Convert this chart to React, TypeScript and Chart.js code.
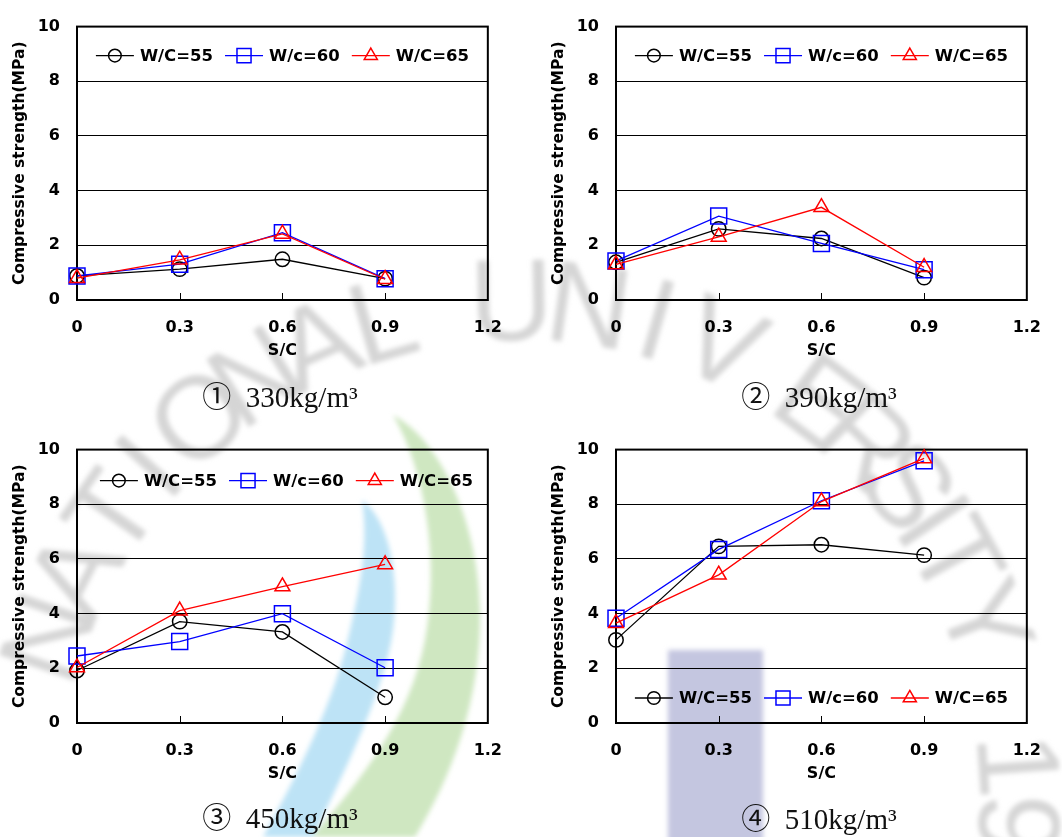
import React, { useEffect, useRef } from 'react';
import { Chart, registerables } from 'chart.js';

Chart.register(...registerables);

// ---------------- data ----------------
const X_VALUES = [0, 0.3, 0.6, 0.9];
const X_TICKS = [0, 0.3, 0.6, 0.9, 1.2];
const X_TICK_LABELS = ['0', '0.3', '0.6', '0.9', '1.2'];
const Y_TICKS = [0, 2, 4, 6, 8, 10];
const Y_TICK_LABELS = ['0', '2', '4', '6', '8', '10'];
const SERIES_LABELS = ['W/C=55', 'W/c=60', 'W/C=65'];
const SERIES_COLORS = ['#000000', '#0000ff', '#ff0000'];
const SERIES_MARKERS = ['circle', 'rect', 'triangle'];
const X_TITLE = 'S/C';
const Y_TITLE = 'Compressive strength(MPa)';

// ① 330 kg/m3
const C330_W55 = [0.88, 1.13, 1.49, 0.78];
const C330_W60 = [0.88, 1.31, 2.46, 0.78];
const C330_W65 = [0.8, 1.47, 2.42, 0.76];
// ② 390 kg/m3
const C390_W55 = [1.38, 2.6, 2.25, 0.82];
const C390_W60 = [1.43, 3.07, 2.07, 1.11];
const C390_W65 = [1.3, 2.31, 3.39, 1.2];
// ③ 450 kg/m3
const C450_W55 = [1.92, 3.71, 3.33, 0.94];
const C450_W60 = [2.45, 2.98, 4.0, 2.02];
const C450_W65 = [2.03, 4.11, 4.99, 5.8];
// ④ 510 kg/m3
const C510_W55 = [3.04, 6.46, 6.52, 6.14];
const C510_W60 = [3.83, 6.35, 8.13, 9.59];
const C510_W65 = [3.65, 5.42, 8.1, 9.68];

const CAPTIONS = ['①\u2002330kg/m³', '②\u2002390kg/m³', '③\u2002450kg/m³', '④\u2002510kg/m³'];

// ---------------- styling ----------------
const FONT_FAMILY = '"DejaVu Sans", "Liberation Sans", Arial, sans-serif';
const MARKER_RADIUS: Record<string, number> = { circle: 7.2, rect: 11.3, triangle: 8.6 };
const CANVAS_W = 520;
const CANVAS_H = 370;

function drawMarker(ctx: CanvasRenderingContext2D, style: string, x: number, y: number, r: number) {
  ctx.beginPath();
  if (style === 'circle') {
    ctx.arc(x, y, r, 0, Math.PI * 2);
  } else if (style === 'rect') {
    const s = r * Math.SQRT1_2;
    ctx.rect(x - s, y - s, 2 * s, 2 * s);
  } else {
    let rad = 0;
    ctx.moveTo(x + Math.sin(rad) * r, y - Math.cos(rad) * r);
    rad += (2 * Math.PI) / 3;
    ctx.lineTo(x + Math.sin(rad) * r, y - Math.cos(rad) * r);
    rad += (2 * Math.PI) / 3;
    ctx.lineTo(x + Math.sin(rad) * r, y - Math.cos(rad) * r);
    ctx.closePath();
  }
  ctx.stroke();
}

const framePlugin = {
  id: 'frame',
  beforeDatasetsDraw(chart: any) {
    const { ctx, chartArea } = chart;
    const xs = chart.scales.x;
    ctx.save();
    ctx.strokeStyle = '#000';
    ctx.lineWidth = 2;
    ctx.strokeRect(chartArea.left, chartArea.top, chartArea.right - chartArea.left, chartArea.bottom - chartArea.top);
    ctx.lineWidth = 1;
    for (const v of X_TICKS) {
      if (v <= xs.min || v >= xs.max) continue;
      const px = Math.round(xs.getPixelForValue(v)) + 0.5;
      ctx.beginPath();
      ctx.moveTo(px, chartArea.bottom);
      ctx.lineTo(px, chartArea.bottom - 7);
      ctx.stroke();
    }
    ctx.restore();
  },
};

const legendPlugin = {
  id: 'insideLegend',
  afterDraw(chart: any, _args: any, opts: any) {
    const { ctx, chartArea } = chart;
    const y = opts.position === 'bottom' ? chartArea.bottom - opts.offset : chartArea.top + opts.offset;
    ctx.save();
    ctx.font = `bold 16.5px ${FONT_FAMILY}`;
    const lineLen = 38;
    const gapText = 6;
    const gapItem = 12;
    const items = chart.data.datasets.map((ds: any) => ({ ds, w: ctx.measureText(ds.label).width }));
    const total = items.reduce((s: number, it: any) => s + lineLen + gapText + it.w, 0) + gapItem * (items.length - 1);
    let x = (chartArea.left + chartArea.right) / 2 - total / 2 + (opts.dx || 0);
    for (const it of items) {
      ctx.strokeStyle = it.ds.borderColor;
      ctx.lineWidth = 1.3;
      ctx.beginPath();
      ctx.moveTo(x, y);
      ctx.lineTo(x + lineLen, y);
      ctx.stroke();
      ctx.lineWidth = 1.5;
      drawMarker(ctx, it.ds.pointStyle, x + lineLen / 2, y, it.ds.pointRadius * 0.88);
      ctx.fillStyle = '#000';
      ctx.textAlign = 'left';
      ctx.textBaseline = 'middle';
      ctx.fillText(it.ds.label, x + lineLen + gapText, y + 1);
      x += lineLen + gapText + it.w + gapItem;
    }
    ctx.restore();
  },
};

type Props = {
  series: number[][];
  left: number;
  top: number;
  legendPos: 'top' | 'bottom';
  legendOffset: number;
  legendDx?: number;
};

function StrengthChart({ series, left, top, legendPos, legendOffset, legendDx = 0 }: Props) {
  const ref = useRef<HTMLCanvasElement>(null);
  useEffect(() => {
    const tickFont = { family: FONT_FAMILY, size: 16, weight: 'bold' as const };
    const datasets = series.map((vals, i) => ({
      label: SERIES_LABELS[i],
      data: X_VALUES.map((x, j) => ({ x, y: vals[j] })),
      borderColor: SERIES_COLORS[i],
      backgroundColor: SERIES_COLORS[i],
      borderWidth: 1.3,
      pointStyle: SERIES_MARKERS[i],
      pointRadius: MARKER_RADIUS[SERIES_MARKERS[i]],
      pointBorderWidth: 1.5,
      pointBorderColor: SERIES_COLORS[i],
      pointBackgroundColor: 'rgba(0,0,0,0)',
      tension: 0,
      clip: false as const,
      order: series.length - i,
    }));
    const chart = new Chart(ref.current as HTMLCanvasElement, {
      type: 'line',
      data: { datasets },
      plugins: [framePlugin, legendPlugin],
      options: {
        animation: false,
        responsive: false,
        devicePixelRatio: 1,
        layout: { padding: { left: 0, right: 26, top: 15, bottom: 0 } },
        plugins: {
          legend: { display: false },
          tooltip: { enabled: false },
          insideLegend: { position: legendPos, offset: legendOffset, dx: legendDx },
        } as any,
        scales: {
          x: {
            type: 'linear',
            min: X_TICKS[0],
            max: X_TICKS[X_TICKS.length - 1],
            afterBuildTicks: (s: any) => { s.ticks = X_TICKS.map((v) => ({ value: v })); },
            afterFit: (s: any) => { s.height = 70; },
            ticks: {
              autoSkip: false,
              maxRotation: 0,
              color: '#000',
              font: tickFont,
              padding: 18,
              callback: (v: any) => X_TICK_LABELS[X_TICKS.findIndex((t) => Math.abs(t - Number(v)) < 1e-9)],
            },
            grid: { display: false, drawTicks: false },
            border: { display: false },
            title: {
              display: true,
              text: X_TITLE,
              color: '#000',
              font: { family: FONT_FAMILY, size: 16, weight: 'bold' },
              padding: { top: 0, bottom: 10 },
            },
          },
          y: {
            type: 'linear',
            min: Y_TICKS[0],
            max: Y_TICKS[Y_TICKS.length - 1],
            afterBuildTicks: (s: any) => { s.ticks = Y_TICKS.map((v) => ({ value: v })); },
            afterFit: (s: any) => { s.width = 77; },
            ticks: {
              color: '#000',
              font: tickFont,
              padding: 17,
              callback: (v: any) => Y_TICK_LABELS[Y_TICKS.indexOf(Number(v))],
            },
            grid: {
              drawTicks: false,
              lineWidth: 1,
              color: (c: any) => (c.tick && (c.tick.value === Y_TICKS[0] || c.tick.value === Y_TICKS[Y_TICKS.length - 1]) ? 'rgba(0,0,0,0)' : '#000'),
            },
            border: { display: false },
            title: {
              display: true,
              text: Y_TITLE,
              color: '#000',
              font: { family: FONT_FAMILY, size: 15.5, weight: 'bold' },
              padding: { top: 11, bottom: 0 },
            },
          },
        },
      } as any,
    });
    return () => chart.destroy();
  }, []);
  return (
    <canvas
      ref={ref}
      width={CANVAS_W}
      height={CANVAS_H}
      style={{ position: 'absolute', left, top, width: CANVAS_W, height: CANVAS_H, display: 'block' }}
    />
  );
}

function Caption({ text, cx, cy }: { text: string; cx: number; cy: number }) {
  return (
    <div
      style={{
        position: 'absolute',
        left: cx - 150,
        top: cy - 17,
        width: 300,
        height: 34,
        lineHeight: '34px',
        textAlign: 'center',
        fontFamily: '"Liberation Serif", "DejaVu Serif", "Noto Sans CJK KR", serif',
        fontSize: 29,
        color: '#111',
        whiteSpace: 'nowrap',
      }}
    >
      {text}
    </div>
  );
}

function Watermark() {
  const cx = 520;
  const cy = 800;
  const r = 500;
  const letters = 'NATIONALUNIVERSITY19'.split('');
  const angles = [19, 27, 35, 42, 50, 58, 66, 74, 89, 98, 106, 114, 127, 134, 141, 146, 151, 159, 176, 183];
  return (
    <svg width={1062} height={837} style={{ position: 'absolute', left: 0, top: 0 }}>
      <defs>
        <filter id="wmBlur" x="-20%" y="-20%" width="140%" height="140%">
          <feGaussianBlur stdDeviation="2.5" />
        </filter>
      </defs>
      <g filter="url(#wmBlur)">
        {letters.map((ch, i) => {
          const a = (angles[i] * Math.PI) / 180;
          const x = cx - r * Math.cos(a);
          const y = cy - r * Math.sin(a);
          return (
            <text
              key={i}
              x={x}
              y={y}
              fontFamily='"Liberation Sans", Arial, sans-serif'
              fontSize={116}
              fill="#d5d5d5"
              textAnchor="middle"
              dominantBaseline="central"
              transform={`rotate(${angles[i] - 90} ${x} ${y})`}
            >
              {ch}
            </text>
          );
        })}
        <path
          d="M393,415 C440,440 478,520 480,610 C482,700 450,780 415,837 L312,837 C360,780 410,720 425,640 C440,560 425,470 393,415 Z"
          fill="#cfe7c1"
        />
        <path
          d="M362,500 C390,520 400,580 393,630 C385,690 345,770 313,837 L263,837 C300,770 335,700 350,630 C362,580 368,540 362,500 Z"
          fill="#bde3f6"
        />
        <rect x={668} y={650} width={95} height={200} fill="#c4c6e0" />
      </g>
    </svg>
  );
}

export default function App() {
  return (
    <div
      style={{
        position: 'absolute',
        left: 0,
        top: 0,
        width: 1062,
        height: 837,
        overflow: 'hidden',
        background: '#fff',
      }}
    >
      <Watermark />
      <StrengthChart series={[C330_W55, C330_W60, C330_W65]} left={0} top={0} legendPos="top" legendOffset={29} />
      <StrengthChart series={[C390_W55, C390_W60, C390_W65]} left={539} top={0} legendPos="top" legendOffset={29} />
      <StrengthChart series={[C450_W55, C450_W60, C450_W65]} left={0} top={423} legendPos="top" legendOffset={31} legendDx={4} />
      <StrengthChart series={[C510_W55, C510_W60, C510_W65]} left={539} top={423} legendPos="bottom" legendOffset={25} />
      <Caption text={CAPTIONS[0]} cx={280} cy={397} />
      <Caption text={CAPTIONS[1]} cx={819} cy={397} />
      <Caption text={CAPTIONS[2]} cx={280} cy={818} />
      <Caption text={CAPTIONS[3]} cx={819} cy={819} />
    </div>
  );
}
